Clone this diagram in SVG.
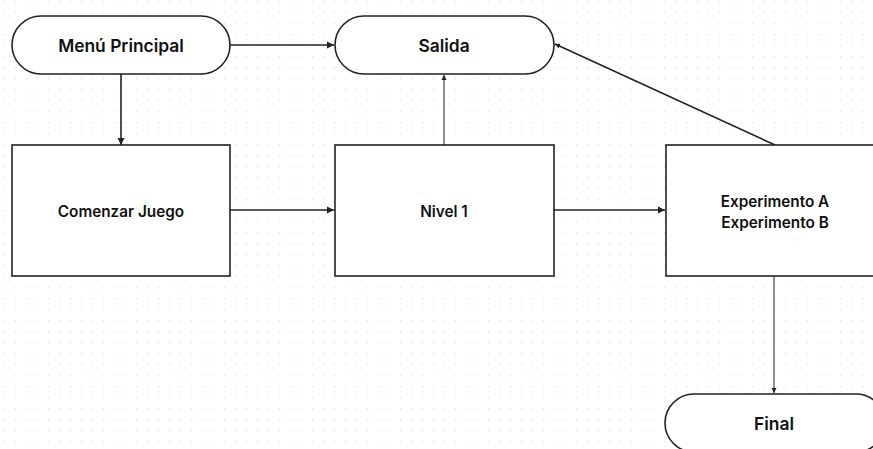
<svg xmlns="http://www.w3.org/2000/svg" width="873" height="449" viewBox="0 0 873 449">
<defs>
<pattern id="dots" x="4" y="1" width="11" height="11" patternUnits="userSpaceOnUse">
<circle cx="0.5" cy="0.5" r="0.9" fill="#e2e2e2"/>
</pattern>
<marker id="ah" markerWidth="8" markerHeight="8" refX="7" refY="4" orient="auto" markerUnits="userSpaceOnUse">
<path d="M0,0.5 L7,4 L0,7.5 Z" fill="#222"/>
</marker>
<marker id="ahs" markerWidth="6" markerHeight="6" refX="5" refY="3" orient="auto" markerUnits="userSpaceOnUse">
<path d="M0,0.5 L5,3 L0,5.5 Z" fill="#222"/>
</marker>
</defs>
<style>
.shape{fill:#fff;fill-opacity:0.85;stroke:#222;stroke-width:1.6}
.lbl{font-family:Inter,"Noto Sans","Liberation Sans",sans-serif;font-weight:600;fill:#111;text-anchor:middle;dominant-baseline:central}
.big{font-size:17.4px}
.sm{font-size:15.3px}
.conn{stroke:#222;stroke-width:1.6;fill:none}
.thin{stroke:#333;stroke-width:1.1;fill:none}
</style>
<rect width="873" height="449" fill="#fff"/>
<rect width="873" height="449" fill="url(#dots)"/>

<g id="connectors">
<line class="conn" x1="230" y1="45" x2="334" y2="45" marker-end="url(#ah)"/>
<line class="conn" x1="121" y1="74" x2="121" y2="145" marker-end="url(#ah)"/>
<line class="thin" x1="444" y1="145" x2="444" y2="75" marker-end="url(#ahs)"/>
<line class="conn" x1="230" y1="210" x2="334" y2="210" marker-end="url(#ah)"/>
<line class="conn" x1="554" y1="210" x2="665" y2="210" marker-end="url(#ah)"/>
<line class="conn" x1="775" y1="145" x2="555" y2="44" marker-end="url(#ahs)"/>
<line class="thin" x1="774" y1="276" x2="774" y2="393" marker-end="url(#ahs)"/>
</g>

<g id="menu-principal">
<rect class="shape" x="12" y="16" width="218" height="58" rx="29"/>
<text class="lbl big" x="121" y="45">Menú Principal</text>
</g>
<g id="salida">
<rect class="shape" x="335" y="16" width="219" height="58" rx="29"/>
<text class="lbl big" x="444" y="45">Salida</text>
</g>
<g id="comenzar-juego">
<rect class="shape" x="12" y="145" width="218" height="131"/>
<text class="lbl sm" x="121" y="211">Comenzar Juego</text>
</g>
<g id="nivel-1">
<rect class="shape" x="335" y="145" width="219" height="131"/>
<text class="lbl sm" x="444" y="211">Nivel 1</text>
</g>
<g id="experimentos">
<rect class="shape" x="666" y="145" width="220" height="131"/>
<text class="lbl sm" x="775" y="201">Experimento A</text>
<text class="lbl sm" x="775" y="222">Experimento B</text>
</g>
<g id="final">
<rect class="shape" x="665" y="394" width="220" height="58" rx="29"/>
<text class="lbl big" x="774" y="423">Final</text>
</g>
</svg>
